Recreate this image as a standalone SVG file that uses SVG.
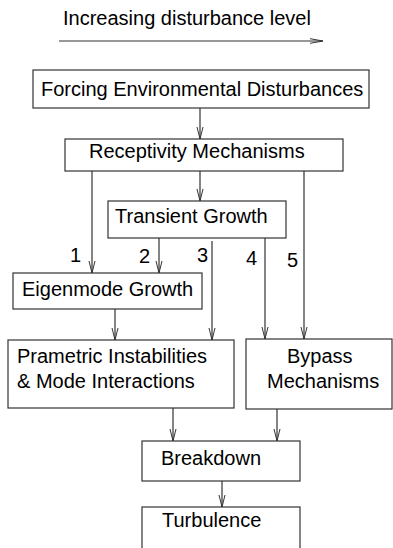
<svg xmlns="http://www.w3.org/2000/svg" width="393" height="548" viewBox="0 0 393 548">
<style>
.box{fill:#fff;stroke:#333;stroke-width:1.2}
.t{font-family:"Liberation Sans",Arial,sans-serif;font-size:20px;fill:#000}
.n{font-family:"Liberation Sans",Arial,sans-serif;font-size:20px;fill:#000}
.c{stroke:#333;stroke-width:1.2;fill:none}
</style>
<defs>
<marker id="ah" markerUnits="userSpaceOnUse" markerWidth="14" markerHeight="10" viewBox="-12 -5 14 10" refX="0" refY="0" orient="auto">
<path d="M-12,-3 L0,0 L-12,3" fill="none" stroke="#333" stroke-width="1"/>
</marker>
<marker id="ah2" markerUnits="userSpaceOnUse" markerWidth="16" markerHeight="10" viewBox="-14 -5 16 10" refX="0" refY="0" orient="auto">
<path d="M-13,-2.3 L0,0 L-13,2.3" fill="none" stroke="#333" stroke-width="1"/>
</marker>
</defs>
<g id="legend">
<text class="t" x="63" y="25">Increasing disturbance level</text>
<line class="c" x1="59" y1="41" x2="323" y2="41" marker-end="url(#ah2)"/>
</g>
<g id="connectors">
<line class="c" x1="200" y1="108" x2="200" y2="139" marker-end="url(#ah)"/>
<line class="c" x1="200" y1="171" x2="200" y2="201" marker-end="url(#ah)"/>
<line class="c" x1="92" y1="171" x2="92" y2="273" marker-end="url(#ah)"/>
<line class="c" x1="304" y1="171" x2="304" y2="339" marker-end="url(#ah)"/>
<line class="c" x1="159" y1="238" x2="159" y2="273" marker-end="url(#ah)"/>
<line class="c" x1="212" y1="241" x2="212" y2="340" marker-end="url(#ah)"/>
<line class="c" x1="265" y1="238" x2="265" y2="339" marker-end="url(#ah)"/>
<line class="c" x1="115" y1="309" x2="115" y2="340" marker-end="url(#ah)"/>
<line class="c" x1="173" y1="408" x2="173" y2="441" marker-end="url(#ah)"/>
<line class="c" x1="277" y1="409" x2="277" y2="441" marker-end="url(#ah)"/>
<line class="c" x1="222" y1="481" x2="222" y2="507" marker-end="url(#ah)"/>
<text class="n" x="70" y="262">1</text>
<text class="n" x="139" y="263">2</text>
<text class="n" x="197" y="262">3</text>
<text class="n" x="246" y="265">4</text>
<text class="n" x="287" y="267">5</text>
</g>
<g id="forcing">
<rect class="box" x="33" y="70" width="336" height="38"/>
<text class="t" x="41" y="96">Forcing Environmental Disturbances</text>
</g>
<g id="receptivity">
<rect class="box" x="65" y="139" width="278" height="32"/>
<text class="t" x="89" y="158">Receptivity Mechanisms</text>
</g>
<g id="transient">
<rect class="box" x="108" y="201" width="178" height="37"/>
<text class="t" x="115" y="223">Transient Growth</text>
</g>
<g id="eigenmode">
<rect class="box" x="13" y="273" width="189" height="36"/>
<text class="t" x="22" y="296">Eigenmode Growth</text>
</g>
<g id="prametric">
<rect class="box" x="8" y="340" width="226" height="68"/>
<text class="t" x="17" y="363">Prametric Instabilities</text>
<text class="t" x="17" y="388">&amp; Mode Interactions</text>
</g>
<g id="bypass">
<rect class="box" x="246" y="339" width="146" height="70"/>
<text class="t" x="287" y="363">Bypass</text>
<text class="t" x="267" y="388">Mechanisms</text>
</g>
<g id="breakdown">
<rect class="box" x="142" y="441" width="158" height="40"/>
<text class="t" x="161" y="465">Breakdown</text>
</g>
<g id="turbulence">
<rect class="box" x="142" y="507" width="158" height="60"/>
<text class="t" x="162" y="527">Turbulence</text>
</g>
</svg>
